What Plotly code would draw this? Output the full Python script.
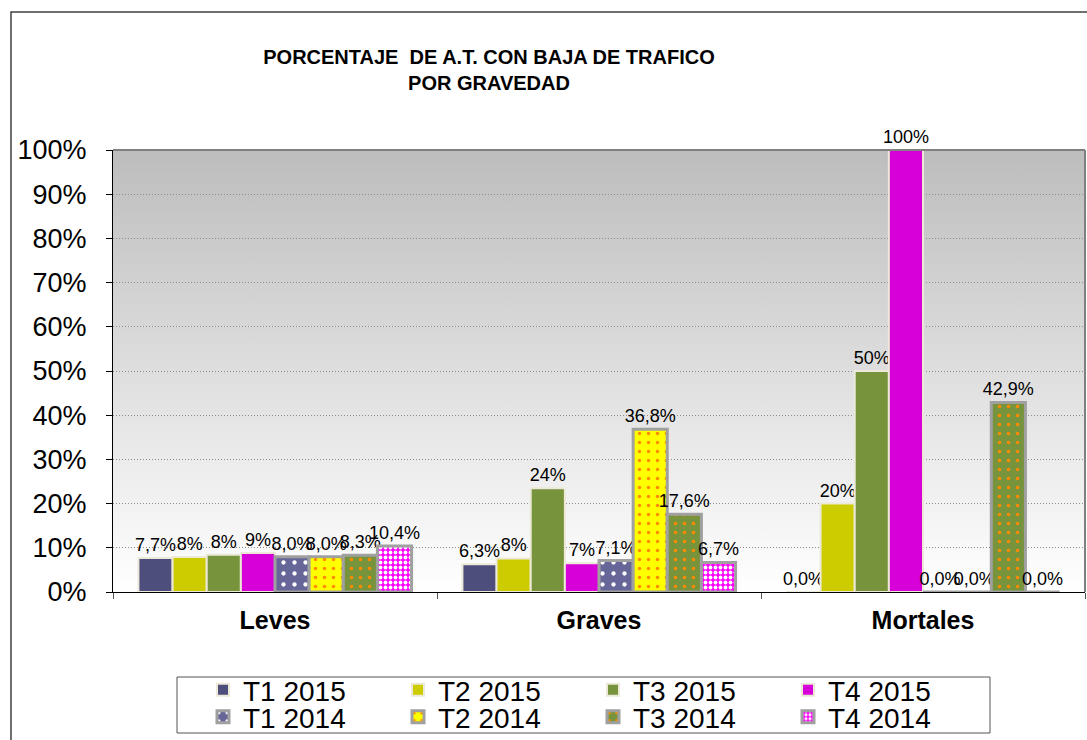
import base64
import plotly.graph_objects as go

categories = ["Leves", "Graves", "Mortales"]
series_names = ["T1 2015", "T2 2015", "T3 2015", "T4 2015",
                "T1 2014", "T2 2014", "T3 2014", "T4 2014"]

t1_2015 = [7.7, 6.3, 0.0]
t2_2015 = [7.9, 7.6, 20.0]
t3_2015 = [8.4, 23.5, 50.0]
t4_2015 = [8.8, 6.5, 100.0]
t1_2014 = [8.0, 7.1, 0.0]
t2_2014 = [8.0, 36.8, 0.0]
t3_2014 = [8.3, 17.6, 42.9]
t4_2014 = [10.4, 6.7, 0.0]

lbl_t1_2015 = ["7,7%", "6,3%", "0,0%"]
lbl_t2_2015 = ["8%", "8%", "20%"]
lbl_t3_2015 = ["8%", "24%", "50%"]
lbl_t4_2015 = ["9%", "7%", "100%"]
lbl_t1_2014 = ["8,0%", "7,1%", "0,0%"]
lbl_t2_2014 = ["8,0%", "36,8%", "0,0%"]
lbl_t3_2014 = ["8,3%", "17,6%", "42,9%"]
lbl_t4_2014 = ["10,4%", "6,7%", "0,0%"]

y_ticks = [0, 10, 20, 30, 40, 50, 60, 70, 80, 90, 100]
y_tick_text = ["0%", "10%", "20%", "30%", "40%", "50%", "60%", "70%", "80%", "90%", "100%"]

values = [t1_2015, t2_2015, t3_2015, t4_2015, t1_2014, t2_2014, t3_2014, t4_2014]
labels = [lbl_t1_2015, lbl_t2_2015, lbl_t3_2015, lbl_t4_2015,
          lbl_t1_2014, lbl_t2_2014, lbl_t3_2014, lbl_t4_2014]

fills = ["#4e4e7c", "#cccc00", "#77933c", "#d800d8",
         "#666699", "#ffff00", "#77933c", "#ff00ff"]
patterns = ["", "", "", "", ".", ".", ".", "."]
pat_fg = [None, None, None, None, "#ffffff", "#ff8c00", "#ff8c00", "#ffffff"]
pat_size = [0, 0, 0, 0, 11, 9, 9, 5]
pat_sol = [0, 0, 0, 0, 0.12, 0.12, 0.12, 0.45]
lines_c = ["#ece9d8"] * 4 + ["#a0a0a0"] * 4
lines_w = [2, 2, 2, 2, 3, 3, 3, 3]

FONT = "Liberation Sans, Arial, sans-serif"

fig = go.Figure()
for i, name in enumerate(series_names):
    pat = dict(shape=patterns[i])
    if patterns[i]:
        pat.update(fgcolor=pat_fg[i], bgcolor=fills[i], size=pat_size[i],
                   solidity=pat_sol[i], fillmode="replace")
    fig.add_trace(go.Bar(
        x=categories, y=values[i], name=name,
        text=labels[i],
        textposition="outside", textangle=0,
        constraintext="none", cliponaxis=False,
        textfont=dict(family=FONT, size=18, color="black"),
        marker=dict(color=fills[i], line=dict(color=lines_c[i], width=lines_w[i]),
                    pattern=pat),
        legend="legend" if i < 4 else "legend2",
        hoverinfo="skip",
    ))

svg = ('<svg xmlns="http://www.w3.org/2000/svg" width="10" height="100" '
       'preserveAspectRatio="none" viewBox="0 0 10 100">'
       '<defs><linearGradient id="g" x1="0" y1="0" x2="0" y2="1">'
       '<stop offset="0" stop-color="#bdbdbd"/><stop offset="1" stop-color="#ffffff"/>'
       '</linearGradient></defs><rect width="10" height="100" fill="url(#g)"/></svg>')
uri = "data:image/svg+xml;base64," + base64.b64encode(svg.encode()).decode()

W, H = 1087, 740
L, R, T, B = 113, 2, 150, 148
pw, ph = W - L - R, H - T - B

def px(xp):
    return (xp - L) / pw

def py(yp):
    return (H - B - yp) / ph

legend_common = dict(orientation="h", xref="container", yref="container",
                     xanchor="left", yanchor="middle",
                     font=dict(family=FONT, size=28, color="black"),
                     bgcolor="rgba(0,0,0,0)", entrywidth=150, itemwidth=30,
                     traceorder="normal")

fig.update_layout(
    width=W, height=H,
    margin=dict(l=L, r=R, t=T, b=B, autoexpand=False),
    paper_bgcolor="white", plot_bgcolor="rgba(0,0,0,0)",
    barmode="group", bargap=0.157, bargroupgap=0,
    title=dict(text="<b>PORCENTAJE  DE A.T. CON BAJA DE TRAFICO<br>POR GRAVEDAD</b>",
               x=489 / W, xanchor="center", y=1 - 64 / H, yanchor="top",
               font=dict(family=FONT, size=20, color="black")),
    font=dict(family=FONT, color="black"),
    showlegend=True,
    legend=dict(x=203 / W, y=1 - 690 / H, **legend_common),
    legend2=dict(x=203 / W, y=1 - 717 / H, **legend_common),
    images=[dict(source=uri, xref="paper", yref="paper", x=0, y=1, sizex=1, sizey=1,
                 sizing="stretch", layer="below", xanchor="left", yanchor="top")],
    shapes=[
        dict(type="line", xref="paper", yref="paper", x0=0, x1=1, y0=1, y1=1,
             line=dict(color="#808080", width=2), layer="above"),
        dict(type="line", xref="paper", yref="paper", x0=1, x1=1, y0=0, y1=1,
             line=dict(color="#808080", width=2), layer="above"),
        dict(type="rect", xref="paper", yref="paper", x0=px(11), x1=px(1100),
             y0=py(760), y1=py(12), line=dict(color="#404040", width=1.5),
             fillcolor="rgba(0,0,0,0)", layer="below"),
        dict(type="rect", xref="paper", yref="paper", x0=px(177), x1=px(990),
             y0=py(733), y1=py(677), line=dict(color="#555555", width=1),
             fillcolor="rgba(0,0,0,0)", layer="below"),
    ],
)

fig.update_xaxes(
    showline=True, linecolor="black", linewidth=1,
    ticks="outside", tickson="boundaries", ticklen=6, tickcolor="#555555",
    tickfont=dict(family=FONT, size=25, color="black"),
    tickprefix="<b>", ticksuffix="</b>", ticklabelstandoff=6,
    showgrid=False,
)
fig.update_yaxes(
    range=[0, 100], tickmode="array", tickvals=y_ticks, ticktext=y_tick_text,
    showline=True, linecolor="black", linewidth=1,
    ticks="outside", ticklen=6, tickcolor="black",
    tickfont=dict(family=FONT, size=27, color="black"),
    ticklabelstandoff=14,
    showgrid=True, gridcolor="#8c8c8c", griddash="1px,2px", gridwidth=1,
    zeroline=False,
)

fig.write_html("out.html", config={"displayModeBar": False},
               post_script="document.body.style.margin='0';")
